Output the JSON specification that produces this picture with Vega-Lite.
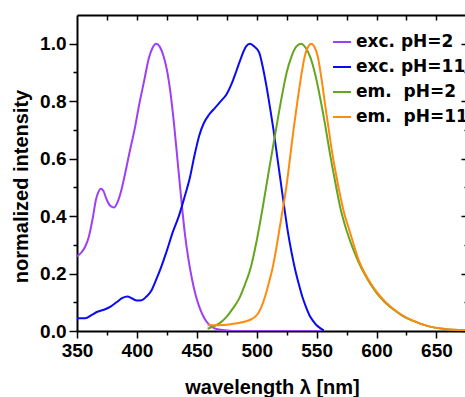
{
  "$schema": "https://vega.github.io/schema/vega-lite/v6.json",
  "autosize": "none",
  "width": 390,
  "height": 316,
  "padding": {"left": 77, "top": 15, "right": 0, "bottom": 66},
  "background": "white",
  "config": {"view": {"stroke": null}, "font": "Liberation Sans"},
  "data": {"values": [
    {"s":"exc. pH=2","x":350,"y":0.26},{"s":"exc. pH=2","x":354,"y":0.275},{"s":"exc. pH=2","x":357,"y":0.295},{"s":"exc. pH=2","x":360,"y":0.33},{"s":"exc. pH=2","x":363,"y":0.39},{"s":"exc. pH=2","x":366,"y":0.46},{"s":"exc. pH=2","x":368,"y":0.485},{"s":"exc. pH=2","x":370,"y":0.495},{"s":"exc. pH=2","x":372,"y":0.488},{"s":"exc. pH=2","x":375,"y":0.455},{"s":"exc. pH=2","x":378,"y":0.435},{"s":"exc. pH=2","x":381,"y":0.43},{"s":"exc. pH=2","x":384,"y":0.45},{"s":"exc. pH=2","x":387,"y":0.49},{"s":"exc. pH=2","x":390,"y":0.545},{"s":"exc. pH=2","x":394,"y":0.625},{"s":"exc. pH=2","x":398,"y":0.70},{"s":"exc. pH=2","x":402,"y":0.79},{"s":"exc. pH=2","x":406,"y":0.87},{"s":"exc. pH=2","x":410,"y":0.95},{"s":"exc. pH=2","x":413,"y":0.985},{"s":"exc. pH=2","x":416,"y":1.0},{"s":"exc. pH=2","x":419,"y":0.99},{"s":"exc. pH=2","x":422,"y":0.96},{"s":"exc. pH=2","x":425,"y":0.91},{"s":"exc. pH=2","x":428,"y":0.83},{"s":"exc. pH=2","x":431,"y":0.72},{"s":"exc. pH=2","x":434,"y":0.59},{"s":"exc. pH=2","x":437,"y":0.46},{"s":"exc. pH=2","x":440,"y":0.34},{"s":"exc. pH=2","x":443,"y":0.25},{"s":"exc. pH=2","x":446,"y":0.18},{"s":"exc. pH=2","x":449,"y":0.125},{"s":"exc. pH=2","x":452,"y":0.085},{"s":"exc. pH=2","x":455,"y":0.055},{"s":"exc. pH=2","x":458,"y":0.033},{"s":"exc. pH=2","x":462,"y":0.016},{"s":"exc. pH=2","x":467,"y":0.006},{"s":"exc. pH=2","x":475,"y":0.002},{"s":"exc. pH=2","x":485,"y":0},{"s":"exc. pH=2","x":553,"y":0},
    {"s":"exc. pH=11","x":350,"y":0.044},{"s":"exc. pH=11","x":357,"y":0.044},{"s":"exc. pH=11","x":362,"y":0.055},{"s":"exc. pH=11","x":367,"y":0.067},{"s":"exc. pH=11","x":373,"y":0.075},{"s":"exc. pH=11","x":378,"y":0.085},{"s":"exc. pH=11","x":383,"y":0.10},{"s":"exc. pH=11","x":388,"y":0.115},{"s":"exc. pH=11","x":392,"y":0.12},{"s":"exc. pH=11","x":396,"y":0.113},{"s":"exc. pH=11","x":400,"y":0.106},{"s":"exc. pH=11","x":404,"y":0.107},{"s":"exc. pH=11","x":408,"y":0.12},{"s":"exc. pH=11","x":412,"y":0.14},{"s":"exc. pH=11","x":416,"y":0.178},{"s":"exc. pH=11","x":420,"y":0.22},{"s":"exc. pH=11","x":425,"y":0.28},{"s":"exc. pH=11","x":430,"y":0.345},{"s":"exc. pH=11","x":435,"y":0.40},{"s":"exc. pH=11","x":440,"y":0.47},{"s":"exc. pH=11","x":444,"y":0.53},{"s":"exc. pH=11","x":448,"y":0.61},{"s":"exc. pH=11","x":452,"y":0.68},{"s":"exc. pH=11","x":456,"y":0.725},{"s":"exc. pH=11","x":460,"y":0.752},{"s":"exc. pH=11","x":465,"y":0.776},{"s":"exc. pH=11","x":470,"y":0.80},{"s":"exc. pH=11","x":475,"y":0.825},{"s":"exc. pH=11","x":479,"y":0.86},{"s":"exc. pH=11","x":483,"y":0.905},{"s":"exc. pH=11","x":487,"y":0.952},{"s":"exc. pH=11","x":491,"y":0.99},{"s":"exc. pH=11","x":494.5,"y":1.0},{"s":"exc. pH=11","x":498,"y":0.99},{"s":"exc. pH=11","x":502,"y":0.97},{"s":"exc. pH=11","x":505,"y":0.92},{"s":"exc. pH=11","x":508,"y":0.855},{"s":"exc. pH=11","x":511,"y":0.78},{"s":"exc. pH=11","x":514,"y":0.70},{"s":"exc. pH=11","x":517,"y":0.61},{"s":"exc. pH=11","x":520,"y":0.52},{"s":"exc. pH=11","x":523,"y":0.43},{"s":"exc. pH=11","x":526,"y":0.345},{"s":"exc. pH=11","x":529,"y":0.275},{"s":"exc. pH=11","x":532,"y":0.215},{"s":"exc. pH=11","x":535,"y":0.165},{"s":"exc. pH=11","x":538,"y":0.12},{"s":"exc. pH=11","x":541,"y":0.085},{"s":"exc. pH=11","x":544,"y":0.055},{"s":"exc. pH=11","x":547,"y":0.035},{"s":"exc. pH=11","x":550,"y":0.02},{"s":"exc. pH=11","x":553,"y":0.01},{"s":"exc. pH=11","x":556,"y":0.002},
    {"s":"em.\u00a0 pH=2","x":459,"y":0.008},{"s":"em.\u00a0 pH=2","x":465,"y":0.018},{"s":"em.\u00a0 pH=2","x":470,"y":0.03},{"s":"em.\u00a0 pH=2","x":475,"y":0.05},{"s":"em.\u00a0 pH=2","x":480,"y":0.078},{"s":"em.\u00a0 pH=2","x":485,"y":0.11},{"s":"em.\u00a0 pH=2","x":490,"y":0.16},{"s":"em.\u00a0 pH=2","x":495,"y":0.22},{"s":"em.\u00a0 pH=2","x":500,"y":0.315},{"s":"em.\u00a0 pH=2","x":505,"y":0.43},{"s":"em.\u00a0 pH=2","x":510,"y":0.555},{"s":"em.\u00a0 pH=2","x":515,"y":0.675},{"s":"em.\u00a0 pH=2","x":520,"y":0.795},{"s":"em.\u00a0 pH=2","x":525,"y":0.9},{"s":"em.\u00a0 pH=2","x":529,"y":0.955},{"s":"em.\u00a0 pH=2","x":533,"y":0.99},{"s":"em.\u00a0 pH=2","x":537,"y":1.0},{"s":"em.\u00a0 pH=2","x":541,"y":0.985},{"s":"em.\u00a0 pH=2","x":545,"y":0.95},{"s":"em.\u00a0 pH=2","x":549,"y":0.89},{"s":"em.\u00a0 pH=2","x":553,"y":0.81},{"s":"em.\u00a0 pH=2","x":557,"y":0.72},{"s":"em.\u00a0 pH=2","x":561,"y":0.62},{"s":"em.\u00a0 pH=2","x":565,"y":0.53},{"s":"em.\u00a0 pH=2","x":570,"y":0.425},{"s":"em.\u00a0 pH=2","x":575,"y":0.35},{"s":"em.\u00a0 pH=2","x":580,"y":0.29},{"s":"em.\u00a0 pH=2","x":585,"y":0.24},{"s":"em.\u00a0 pH=2","x":590,"y":0.198},{"s":"em.\u00a0 pH=2","x":595,"y":0.163},{"s":"em.\u00a0 pH=2","x":600,"y":0.133},{"s":"em.\u00a0 pH=2","x":607,"y":0.1},{"s":"em.\u00a0 pH=2","x":615,"y":0.072},{"s":"em.\u00a0 pH=2","x":622,"y":0.052},{"s":"em.\u00a0 pH=2","x":630,"y":0.036},{"s":"em.\u00a0 pH=2","x":643,"y":0.017},{"s":"em.\u00a0 pH=2","x":657,"y":0.007},{"s":"em.\u00a0 pH=2","x":675,"y":0.002},
    {"s":"em.\u00a0 pH=11","x":459,"y":0.02},{"s":"em.\u00a0 pH=11","x":465,"y":0.02},{"s":"em.\u00a0 pH=11","x":472,"y":0.021},{"s":"em.\u00a0 pH=11","x":480,"y":0.025},{"s":"em.\u00a0 pH=11","x":486,"y":0.029},{"s":"em.\u00a0 pH=11","x":491,"y":0.034},{"s":"em.\u00a0 pH=11","x":495,"y":0.04},{"s":"em.\u00a0 pH=11","x":498,"y":0.048},{"s":"em.\u00a0 pH=11","x":501,"y":0.06},{"s":"em.\u00a0 pH=11","x":504,"y":0.085},{"s":"em.\u00a0 pH=11","x":507,"y":0.12},{"s":"em.\u00a0 pH=11","x":510,"y":0.165},{"s":"em.\u00a0 pH=11","x":513,"y":0.215},{"s":"em.\u00a0 pH=11","x":516,"y":0.28},{"s":"em.\u00a0 pH=11","x":519,"y":0.355},{"s":"em.\u00a0 pH=11","x":522,"y":0.43},{"s":"em.\u00a0 pH=11","x":525,"y":0.51},{"s":"em.\u00a0 pH=11","x":528,"y":0.61},{"s":"em.\u00a0 pH=11","x":531,"y":0.71},{"s":"em.\u00a0 pH=11","x":534,"y":0.80},{"s":"em.\u00a0 pH=11","x":537,"y":0.885},{"s":"em.\u00a0 pH=11","x":540,"y":0.955},{"s":"em.\u00a0 pH=11","x":543,"y":0.99},{"s":"em.\u00a0 pH=11","x":545.5,"y":1.0},{"s":"em.\u00a0 pH=11","x":548,"y":0.99},{"s":"em.\u00a0 pH=11","x":551,"y":0.955},{"s":"em.\u00a0 pH=11","x":554,"y":0.88},{"s":"em.\u00a0 pH=11","x":557,"y":0.79},{"s":"em.\u00a0 pH=11","x":560,"y":0.705},{"s":"em.\u00a0 pH=11","x":563,"y":0.62},{"s":"em.\u00a0 pH=11","x":566,"y":0.55},{"s":"em.\u00a0 pH=11","x":569,"y":0.485},{"s":"em.\u00a0 pH=11","x":573,"y":0.41},{"s":"em.\u00a0 pH=11","x":577,"y":0.355},{"s":"em.\u00a0 pH=11","x":581,"y":0.30},{"s":"em.\u00a0 pH=11","x":585,"y":0.248},{"s":"em.\u00a0 pH=11","x":590,"y":0.203},{"s":"em.\u00a0 pH=11","x":595,"y":0.167},{"s":"em.\u00a0 pH=11","x":600,"y":0.137},{"s":"em.\u00a0 pH=11","x":607,"y":0.103},{"s":"em.\u00a0 pH=11","x":615,"y":0.074},{"s":"em.\u00a0 pH=11","x":622,"y":0.054},{"s":"em.\u00a0 pH=11","x":630,"y":0.037},{"s":"em.\u00a0 pH=11","x":643,"y":0.017},{"s":"em.\u00a0 pH=11","x":657,"y":0.007},{"s":"em.\u00a0 pH=11","x":675,"y":0.002}
  ]},
  "layer": [
    {
      "mark": {"type": "line", "interpolate": "monotone", "strokeWidth": 2, "clip": true},
      "encoding": {
        "x": {"field": "x", "type": "quantitative",
          "scale": {"domain": [350, 675.5], "nice": false, "zero": false},
          "axis": {"orient": "bottom", "values": [350,400,450,500,550,600,650], "grid": false,
            "domain": true, "domainColor": "black", "domainWidth": 2,
            "tickSize": 7, "tickWidth": 1.5, "tickColor": "black",
            "labelFont": "Liberation Sans", "labelFontWeight": "bold", "labelFontSize": 19, "labelColor": "black",
            "labelPadding": 3, "labelFlush": false, "labelOverlap": false,
            "title": "wavelength λ [nm]", "titleFont": "Liberation Sans", "titleFontWeight": "bold", "titleFontSize": 20, "titleColor": "black",
            "titleBaseline": "alphabetic", "titleY": 62}},
        "y": {"field": "y", "type": "quantitative",
          "scale": {"domain": [0, 1.1], "nice": false, "zero": false},
          "axis": {"orient": "left", "values": [0,0.2,0.4,0.6,0.8,1.0], "format": ".1f", "grid": false,
            "domain": true, "domainColor": "black", "domainWidth": 2,
            "tickSize": 8, "tickWidth": 1.5, "tickColor": "black",
            "labelFont": "Liberation Sans", "labelFontWeight": "bold", "labelFontSize": 19, "labelColor": "black",
            "labelPadding": 3, "labelFlush": false, "labelOverlap": false,
            "title": "normalized intensity", "titleFont": "Liberation Sans", "titleFontWeight": "bold", "titleFontSize": 20, "titleColor": "black",
            "titleBaseline": "alphabetic", "titleAngle": -90, "titleAlign": "center", "titleX": -50, "titleY": 171}},
        "color": {"field": "s", "type": "nominal",
          "scale": {"domain": ["exc. pH=2", "exc. pH=11", "em.\u00a0 pH=2", "em.\u00a0 pH=11"], "range": ["#9D3FF7", "#0A0AF5", "#64A61E", "#FF8A0F"]},
          "legend": {"orient": "none", "legendX": 255, "legendY": 17, "title": null, "padding": 0,
            "symbolType": "stroke", "symbolSize": 324, "symbolStrokeWidth": 2,
            "labelFont": "DejaVu Sans", "labelFontWeight": "bold", "labelFontSize": 17, "labelColor": "black",
            "labelOffset": 4, "rowPadding": 7, "labelLimit": 300}}
      }
    },
    {
      "mark": {"type": "line", "opacity": 0},
      "encoding": {
        "x": {"field": "x", "type": "quantitative",
          "axis": {"orient": "bottom", "values": [375,425,475,525,575,625,675], "grid": false, "domain": false, "labels": false, "title": null,
            "tickSize": 4, "tickWidth": 1.5, "tickColor": "black"}},
        "y": {"field": "y", "type": "quantitative",
          "axis": {"orient": "left", "values": [0.1,0.3,0.5,0.7,0.9], "grid": false, "domain": false, "labels": false, "title": null,
            "tickSize": 4, "tickWidth": 1.5, "tickColor": "black"}}
      }
    },
    {
      "mark": {"type": "line", "opacity": 0},
      "encoding": {
        "x": {"field": "x", "type": "quantitative",
          "axis": {"orient": "top", "values": [375,400,425,450,475,500,525,550,575,600,625,650,675], "grid": false, "domain": true, "domainColor": "black", "domainWidth": 2, "labels": false, "title": null,
            "tickSize": -5, "tickWidth": 1.5, "tickColor": "black"}},
        "y": {"field": "y", "type": "quantitative",
          "axis": {"orient": "right", "values": [0,0.2,0.4,0.6,0.8,1.0], "grid": false, "domain": true, "domainColor": "black", "domainWidth": 2, "labels": false, "title": null,
            "tickSize": -6, "tickWidth": 1.5, "tickColor": "black"}}
      }
    },
    {
      "mark": {"type": "line", "opacity": 0},
      "encoding": {
        "x": {"field": "x", "type": "quantitative", "axis": null},
        "y": {"field": "y", "type": "quantitative",
          "axis": {"orient": "right", "values": [0.1,0.3,0.5,0.7,0.9], "grid": false, "domain": false, "labels": false, "title": null,
            "tickSize": -3, "tickWidth": 1.5, "tickColor": "black"}}
      }
    }
  ],
  "resolve": {"axis": {"x": "independent", "y": "independent"}}
}
